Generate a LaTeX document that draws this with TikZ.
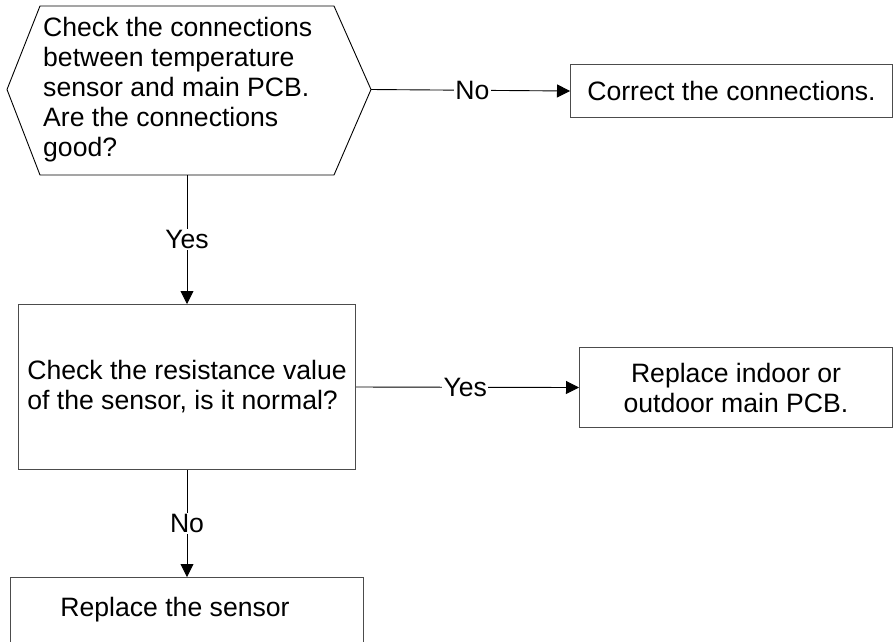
\documentclass[tikz,border=0pt]{standalone}
\usepackage{fontspec}
\setmainfont{Liberation Sans}
\usetikzlibrary{arrows.meta}
\begin{document}
\begin{tikzpicture}[x=1pt,y=-1pt,
  txt/.style={font=\fontsize{26.6}{30}\selectfont, inner sep=0pt},
  boxs/.style={draw=black!70, line width=1pt, inner sep=0pt, font=\fontsize{26.6}{30}\selectfont},
  conn/.style={line width=0.9pt, -{Triangle[length=13pt,width=13pt]}},
  lbl/.style={font=\fontsize{26.6}{30}\selectfont, fill=white, inner sep=1.5pt}]
\useasboundingbox (0,0) rectangle (893,641);
\clip (0,0) rectangle (893,641);
% decision hexagon
\draw[line width=0.9pt] (40,6) -- (334,6) -- (371,89.5) -- (334,175) -- (40,175) -- (7,89.5) -- cycle;
\coordinate (hexR) at (371,89.5);
\coordinate (hexB) at (187,175);
\node[txt, anchor=west, align=left] (q1) at (43,90) {Check the connections\\between temperature\\sensor and main PCB.\\Are the connections\\good?};
% boxes
\node[boxs, anchor=north west, minimum width=322pt, minimum height=53pt] (fix) at (570,64) {Correct the connections.};
\node[boxs, anchor=north west, minimum width=337pt, minimum height=165pt, align=left] (s2) at (18,304) {Check the resistance value\\of the sensor, is it normal?};
\node[boxs, anchor=north west, minimum width=313pt, minimum height=80pt, align=center] (s3) at (579,347) {Replace indoor or\\outdoor main PCB.};
\node[boxs, anchor=north west, minimum width=353pt, minimum height=90pt] (s4) at (10,577) {};
\node[txt] (s4t) at (175,610) {Replace the sensor};
% connectors
\draw[conn] (hexR) -- node[lbl, pos=0.51] (l1) {No} (fix.west);
\draw[conn] (hexB) -- node[lbl, pos=0.50] (l2) {Yes} (s2.north -| hexB);
\draw[conn] (s2.east) -- node[lbl, pos=0.49] (l3) {Yes} (s3.west);
\draw[conn] (s2.south -| hexB) -- node[lbl, pos=0.50] (l4) {No} (s4.north -| hexB);
\end{tikzpicture}
\end{document}
